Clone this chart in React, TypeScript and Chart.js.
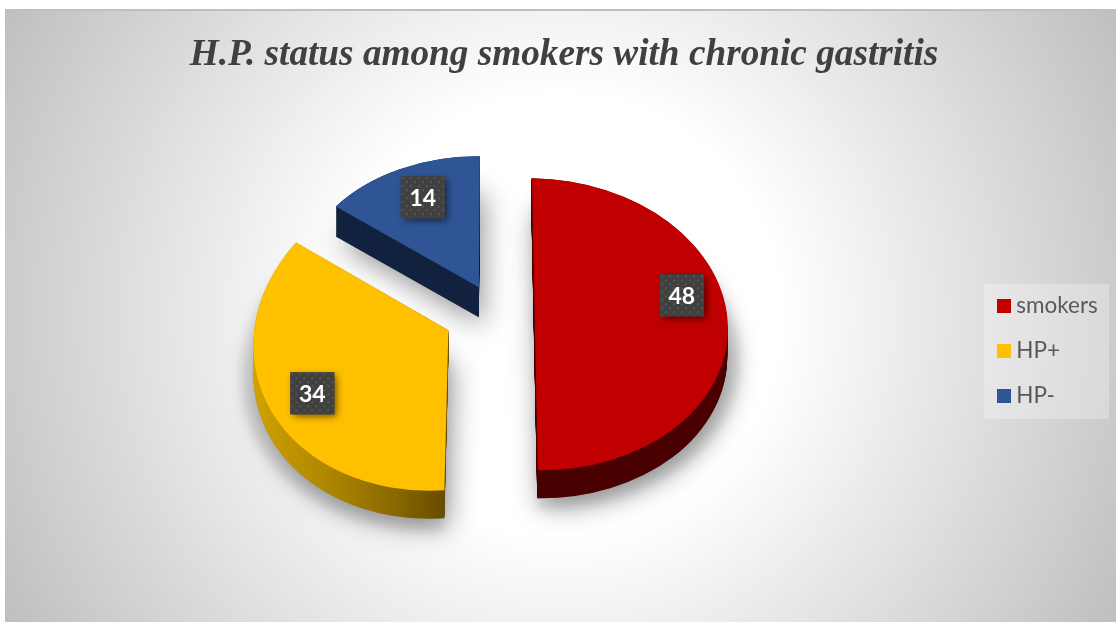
import React, { useEffect, useRef } from "react";
import { Chart, registerables } from "chart.js";

Chart.register(...registerables);

// Chart content
const titleText = "H.P. status among smokers with chronic gastritis";
const categories = ["smokers", "HP+", "HP-"];
const values = [48, 34, 14];
const topColors = ["#c00000", "#ffc000", "#2f5597"];

// Tilted-disc drawing setup: where each wedge sits relative to the pie centre
// and how its circle is flattened into an ellipse, all in pixels.
const explodeX = [34.5, -52, -21.5];
const explodeY = [-30, -24, -67];
const axisU = [[193, 2], [195, -12], [181, 1.5]];
const axisV = [[3, 146], [-4, 160], [-1, 131]];
const wallDepth = [28, 28, 30];
const wallShift = [-0.6, 0, 0];
const labelDx = [147, -136, -56];
const labelDy = [-29, 63, -90];
const paintOrder = [2, 1, 0];

function dotPattern(ctx: CanvasRenderingContext2D) {
  const tile = document.createElement("canvas");
  tile.width = 8;
  tile.height = 8;
  const t = tile.getContext("2d")!;
  t.fillStyle = "#404040";
  t.fillRect(0, 0, 8, 8);
  t.fillStyle = "#565656";
  t.fillRect(1, 1, 2, 2);
  t.fillRect(5, 5, 2, 2);
  return ctx.createPattern(tile, "repeat")!;
}

// Square legend swatch, used as a point style so the text can sit close to it.
function swatch(color: string) {
  const c = document.createElement("canvas");
  c.width = 14;
  c.height = 14;
  const t = c.getContext("2d")!;
  t.fillStyle = color;
  t.fillRect(0, 0, 14, 14);
  return c;
}

function withFill(arc: any, fill: any, paint: () => void) {
  const saved = arc.options;
  arc.options = { ...saved, backgroundColor: fill };
  paint();
  arc.options = saved;
}

function placeWedge(ctx: CanvasRenderingContext2D, arc: any, i: number, dx: number, dy: number, grow = 1) {
  const r = arc.outerRadius;
  ctx.translate(arc.x + explodeX[i] + dx, arc.y + explodeY[i] + dy);
  ctx.transform(
    (axisU[i][0] * grow) / r,
    (axisU[i][1] * grow) / r,
    (axisV[i][0] * grow) / r,
    (axisV[i][1] * grow) / r,
    0,
    0
  );
  ctx.translate(-arc.x, -arc.y);
}

function wallFill(ctx: CanvasRenderingContext2D, arc: any, i: number) {
  if (i === 0) return "#4a0000";
  if (i === 2) return "#13233f";
  const g = ctx.createLinearGradient(arc.x - arc.outerRadius, 0, arc.x, 0);
  g.addColorStop(0, "#d2a200");
  g.addColorStop(0.45, "#a98200");
  g.addColorStop(0.75, "#886800");
  g.addColorStop(1, "#684c00");
  return g;
}

const panelPlugin = {
  id: "panel",
  afterLayout(chart: any) {
    // Legend block sits at a fixed spot on the panel's right side.
    const lg = chart.legend;
    const w = lg.width;
    const h = lg.height;
    lg.left = 980.5;
    lg.top = 272.25;
    lg.right = lg.left + w;
    lg.bottom = lg.top + h;
  },
  beforeDraw(chart: any) {
    const { ctx, width, height } = chart;
    ctx.save();
    ctx.fillStyle = "#ffffff";
    ctx.fillRect(0, 0, width, height);
    const g = ctx.createRadialGradient(560, 315, 220, 560, 315, 640);
    g.addColorStop(0, "#ffffff");
    g.addColorStop(1, "#bebebe");
    ctx.fillStyle = g;
    ctx.fillRect(5, 9, width - 5, height - 9);
    ctx.fillStyle = "#bfbfbf";
    ctx.fillRect(5, 9, width - 5, 2);
    ctx.fillStyle = "rgba(255,255,255,0.28)";
    ctx.fillRect(984, 284, 125, 135);
    ctx.restore();
  },
};

const tiltedPiePlugin = {
  id: "tiltedPie",
  beforeDatasetsDraw(chart: any) {
    const { ctx } = chart;
    const arcs = chart.getDatasetMeta(0).data;

    // Pale cast shadow spreading out behind the lower rim.
    paintOrder.forEach((i) => {
      if (i === 2) return;
      const arc = arcs[i];
      ctx.save();
      ctx.filter = "blur(4px)";
      placeWedge(ctx, arc, i, 0, wallDepth[i] + 2, 1.065);
      withFill(arc, "rgba(90,90,90,0.13)", () => arc.draw(ctx));
      ctx.restore();
    });

    // Soft drop shadow under every wedge.
    paintOrder.forEach((i) => {
      const arc = arcs[i];
      ctx.save();
      ctx.shadowColor = "rgba(0,0,0,0.42)";
      ctx.shadowBlur = 28;
      ctx.shadowOffsetX = 4;
      ctx.shadowOffsetY = 8;
      placeWedge(ctx, arc, i, wallShift[i], wallDepth[i]);
      withFill(arc, "#808080", () => arc.draw(ctx));
      ctx.restore();
    });

    // Extruded wall, then the lit top face.
    paintOrder.forEach((i) => {
      const arc = arcs[i];
      for (let d = wallDepth[i]; d >= 0; d--) {
        ctx.save();
        placeWedge(ctx, arc, i, wallShift[i], d);
        withFill(arc, wallFill(ctx, arc, i), () => arc.draw(ctx));
        ctx.restore();
      }
      ctx.save();
      placeWedge(ctx, arc, i, 0, 0);
      arc.draw(ctx);
      ctx.restore();
    });
    return false;
  },
  afterDraw(chart: any) {
    const { ctx } = chart;
    const arcs = chart.getDatasetMeta(0).data;
    const pattern = dotPattern(ctx);
    const boxW = 44;
    const boxH = 42;
    arcs.forEach((arc: any, i: number) => {
      const cx = arc.x + explodeX[i] + labelDx[i];
      const cy = arc.y + explodeY[i] + labelDy[i];
      ctx.save();
      ctx.shadowColor = "rgba(0,0,0,0.55)";
      ctx.shadowBlur = 7;
      ctx.shadowOffsetX = 3;
      ctx.shadowOffsetY = 3;
      ctx.fillStyle = "#404040";
      ctx.fillRect(cx - boxW / 2, cy - boxH / 2, boxW, boxH);
      ctx.restore();
      ctx.save();
      ctx.translate(cx - boxW / 2, cy - boxH / 2);
      ctx.fillStyle = pattern;
      ctx.fillRect(0, 0, boxW, boxH);
      ctx.restore();
      ctx.save();
      ctx.fillStyle = "#ffffff";
      ctx.font = "bold 23px Lato";
      ctx.textAlign = "center";
      ctx.textBaseline = "middle";
      ctx.fillText(String(values[i]), cx, cy + 1);
      ctx.restore();
    });
  },
};

export default function App() {
  const canvasRef = useRef<HTMLCanvasElement>(null);

  useEffect(() => {
    const chart = new Chart(canvasRef.current!, {
      type: "pie",
      data: {
        labels: categories,
        datasets: [{ data: values, backgroundColor: topColors, borderWidth: 0 }],
      },
      options: {
        responsive: false,
        animation: false,
        events: [],
        layout: { padding: { left: 12 } },
        plugins: {
          title: {
            display: true,
            text: titleText,
            color: "#404040",
            font: { family: "'Liberation Serif'", size: 37.25, style: "italic", weight: "bold" },
            padding: { top: 33, bottom: 9 },
          },
          legend: {
            display: true,
            position: "right",
            align: "start",
            labels: {
              usePointStyle: true,
              pointStyleWidth: 2,
              boxHeight: 14,
              padding: 22.5,
              color: "#595959",
              font: { family: "Lato", size: 22.5 },
              generateLabels: () =>
                categories.map((text, index) => ({
                  text,
                  index,
                  hidden: false,
                  lineWidth: 0,
                  fontColor: "#595959",
                  fillStyle: topColors[index],
                  pointStyle: swatch(topColors[index]),
                })),
            },
          },
          tooltip: { enabled: false },
        },
      },
      plugins: [panelPlugin, tiltedPiePlugin],
    } as any);
    return () => chart.destroy();
  }, []);

  return (
    <div style={{ position: "absolute", left: 0, top: 0, width: 1116, height: 622, overflow: "hidden" }}>
      <canvas ref={canvasRef} width={1116} height={622} style={{ display: "block" }} />
    </div>
  );
}
